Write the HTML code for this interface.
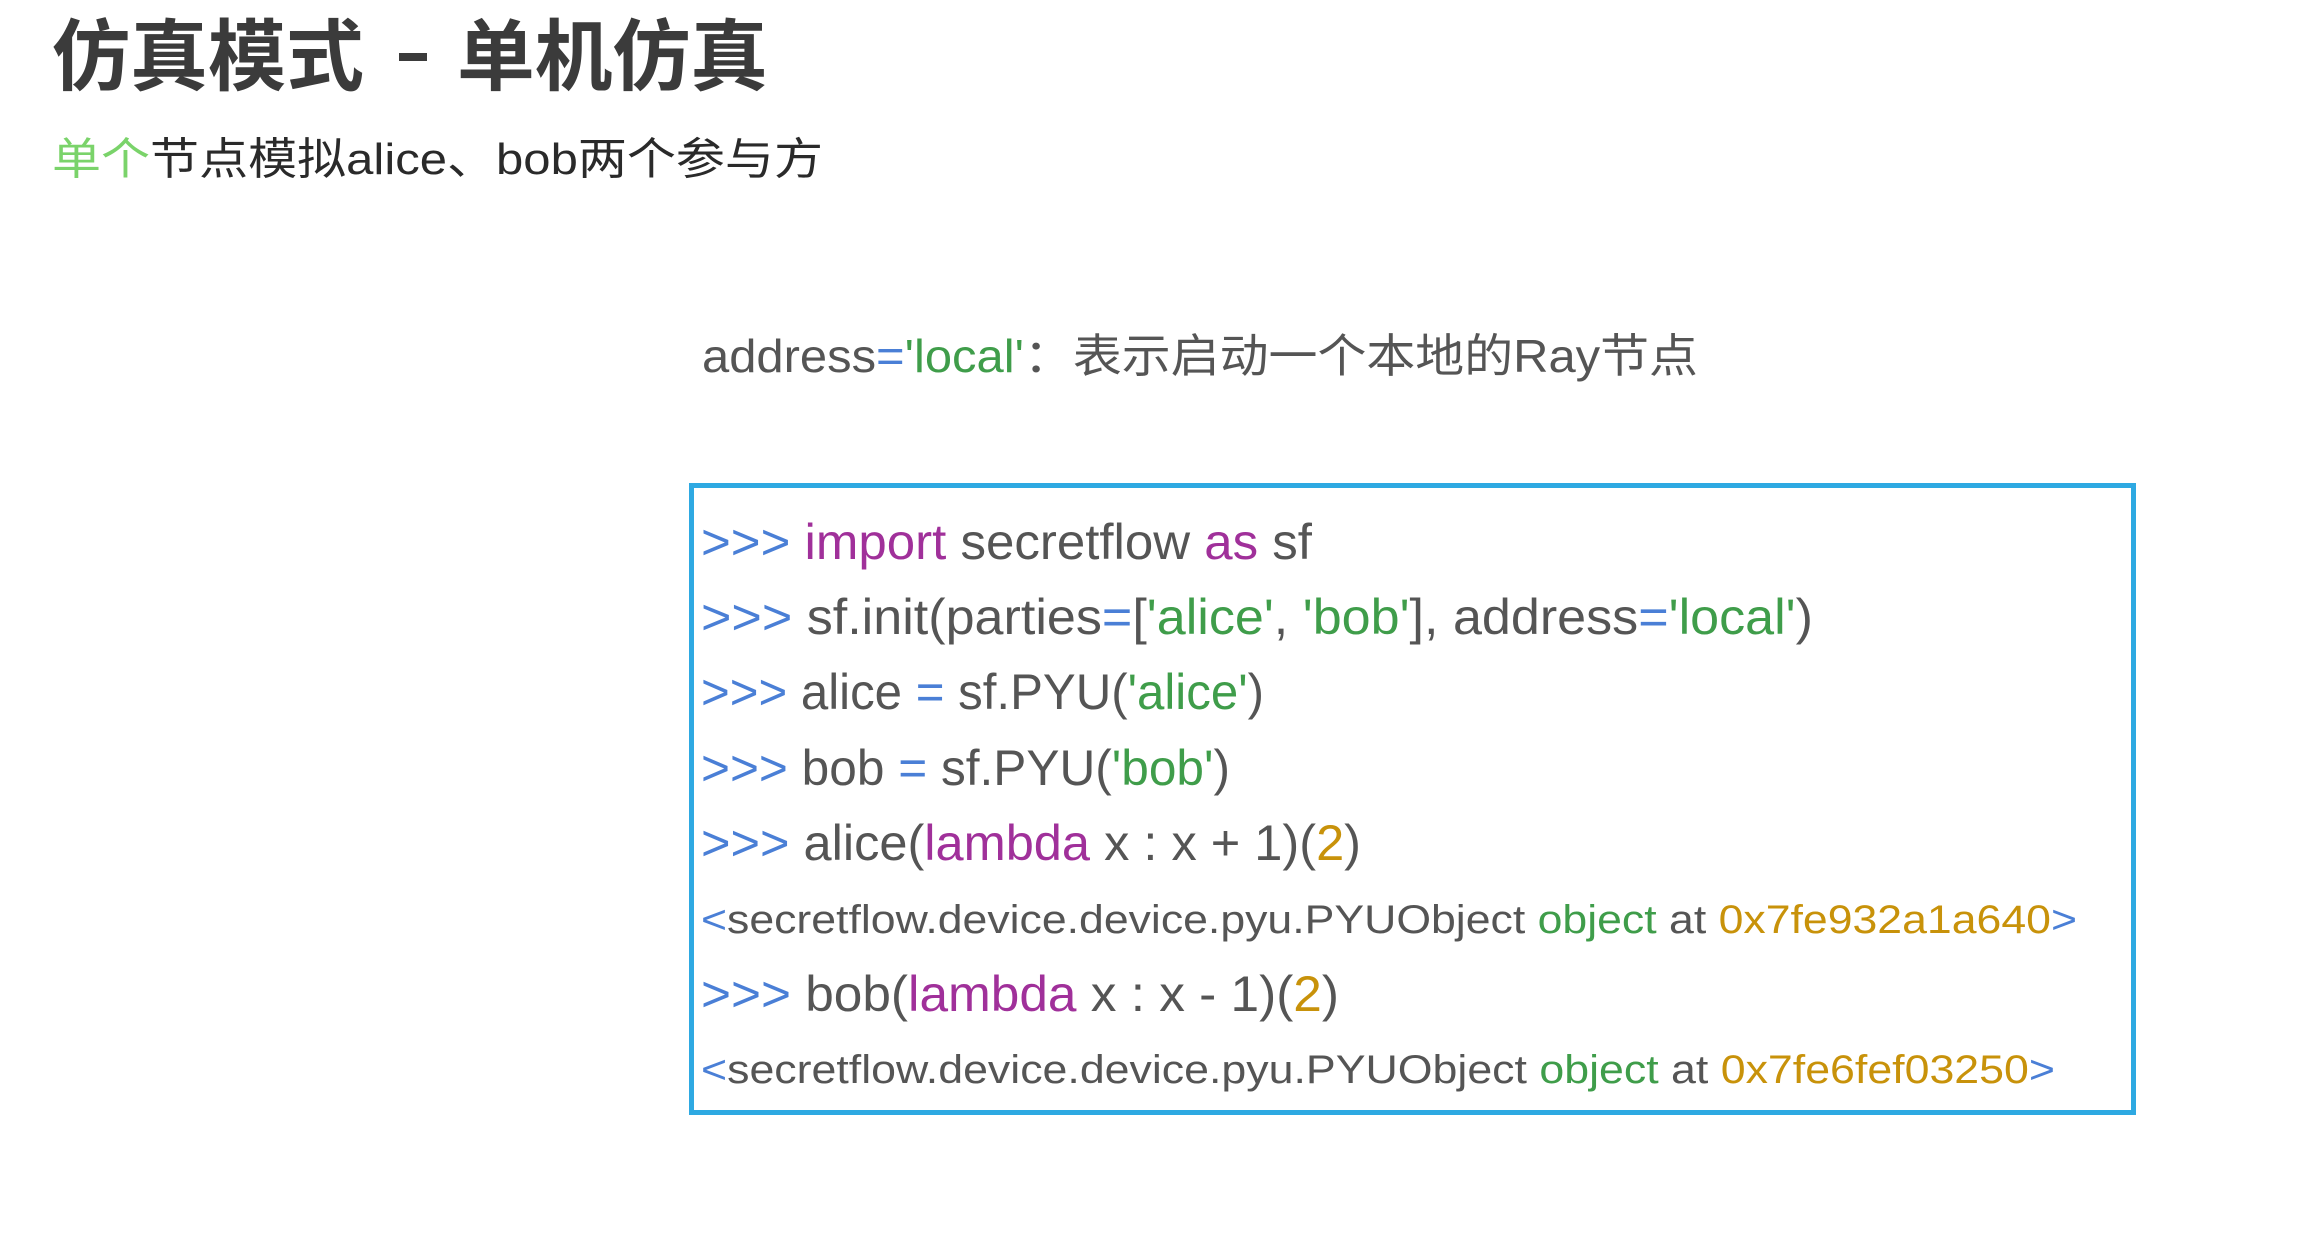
<!DOCTYPE html>
<html><head><meta charset="utf-8"><style>
html,body{margin:0;padding:0;background:#fff;}
body{width:2316px;height:1242px;overflow:hidden;position:relative;}
svg{position:absolute;left:0;top:0;}
.f{font-family:"Liberation Sans","Noto Sans CJK SC",sans-serif;}
</style></head><body>
<svg width="2316" height="1242" xmlns="http://www.w3.org/2000/svg" class="f">
<text x="52" y="84" font-size="78" font-weight="bold" fill="#3b3b3b" textLength="312" lengthAdjust="spacingAndGlyphs">仿真模式</text>
<rect x="399" y="53" width="28" height="8" fill="#3b3b3b"/>
<text x="457" y="84" font-size="78" font-weight="bold" fill="#3b3b3b" textLength="311" lengthAdjust="spacingAndGlyphs">单机仿真</text>

<text x="52" y="174" font-size="44" fill="#2a2a2a" textLength="771" lengthAdjust="spacingAndGlyphs"><tspan fill="#7ad36a">单个</tspan>节点模拟alice、bob两个参与方</text>

<text x="702" y="372" font-size="46" fill="#555" textLength="996" lengthAdjust="spacingAndGlyphs">address<tspan fill="#4a7fd6">=</tspan><tspan fill="#3f9d4a">'local'</tspan>：表示启动一个本地的Ray节点</text>

<rect x="691.5" y="485.5" width="1442" height="627" fill="none" stroke="#2ea9e2" stroke-width="5"/>

<g font-size="50" fill="#555">
<text x="701" y="559" textLength="611" lengthAdjust="spacingAndGlyphs"><tspan fill="#4a7fd6">&gt;&gt;&gt; </tspan><tspan fill="#a0309a">import</tspan> secretflow <tspan fill="#a0309a">as</tspan> sf</text>
<text x="701" y="634" textLength="1112" lengthAdjust="spacingAndGlyphs"><tspan fill="#4a7fd6">&gt;&gt;&gt; </tspan>sf.init(parties<tspan fill="#4a7fd6">=</tspan>[<tspan fill="#3f9d4a">'alice'</tspan>, <tspan fill="#3f9d4a">'bob'</tspan>], address<tspan fill="#4a7fd6">=</tspan><tspan fill="#3f9d4a">'local'</tspan>)</text>
<text x="701" y="709" textLength="563" lengthAdjust="spacingAndGlyphs"><tspan fill="#4a7fd6">&gt;&gt;&gt; </tspan>alice <tspan fill="#4a7fd6">=</tspan> sf.PYU(<tspan fill="#3f9d4a">'alice'</tspan>)</text>
<text x="701" y="785" textLength="529" lengthAdjust="spacingAndGlyphs"><tspan fill="#4a7fd6">&gt;&gt;&gt; </tspan>bob <tspan fill="#4a7fd6">=</tspan> sf.PYU(<tspan fill="#3f9d4a">'bob'</tspan>)</text>
<text x="701" y="860" textLength="660" lengthAdjust="spacingAndGlyphs"><tspan fill="#4a7fd6">&gt;&gt;&gt; </tspan>alice(<tspan fill="#a0309a">lambda</tspan> x : x + 1)(<tspan fill="#c8920a">2</tspan>)</text>
<text x="701" y="1011" textLength="638" lengthAdjust="spacingAndGlyphs"><tspan fill="#4a7fd6">&gt;&gt;&gt; </tspan>bob(<tspan fill="#a0309a">lambda</tspan> x : x - 1)(<tspan fill="#c8920a">2</tspan>)</text>
</g>
<g font-size="40" fill="#555">
<text x="701" y="933" textLength="1376" lengthAdjust="spacingAndGlyphs"><tspan fill="#4a7fd6">&lt;</tspan>secretflow.device.device.pyu.PYUObject <tspan fill="#3f9d4a">object</tspan> at <tspan fill="#c8920a">0x7fe932a1a640</tspan><tspan fill="#4a7fd6">&gt;</tspan></text>
<text x="701" y="1083" textLength="1354" lengthAdjust="spacingAndGlyphs"><tspan fill="#4a7fd6">&lt;</tspan>secretflow.device.device.pyu.PYUObject <tspan fill="#3f9d4a">object</tspan> at <tspan fill="#c8920a">0x7fe6fef03250</tspan><tspan fill="#4a7fd6">&gt;</tspan></text>
</g>
</svg>
</body></html>
